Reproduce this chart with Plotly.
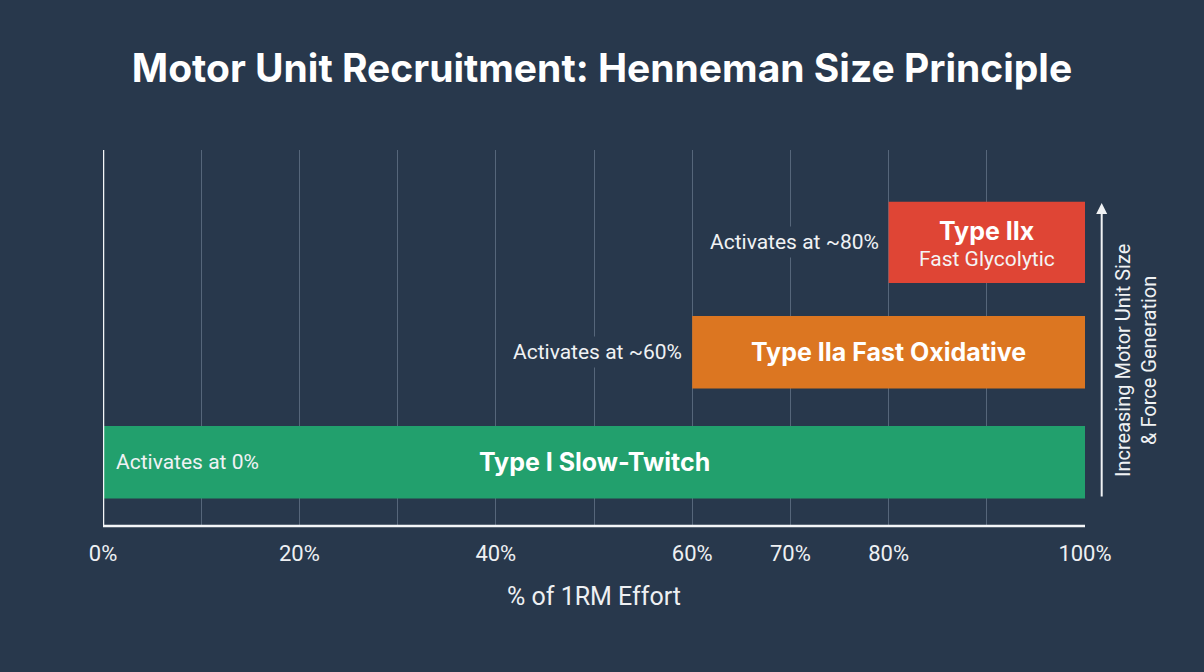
import plotly.graph_objects as go

# ---- data ----
fiber_types = ["Type I", "Type IIa", "Type IIx"]
start_pct = [0, 60, 80]
end_pct = [100, 100, 100]
bar_titles = ["Type I Slow-Twitch", "Type IIa Fast Oxidative", "Type IIx"]
bar_subtitles = ["", "", "Fast Glycolytic"]
activation_labels = ["Activates at 0%", "Activates at ~60%", "Activates at ~80%"]
bar_colors = ["#22a06d", "#dc7621", "#df4535"]
tick_vals = [0, 10, 20, 30, 40, 50, 60, 70, 80, 90, 100]
tick_text = ["0%", "", "20%", "", "40%", "", "60%", "70%", "80%", "", "100%"]

BG = "#28384c"
FONT = "Roboto"

ypos = list(range(len(fiber_types)))
widths = [0.66, 0.66, 0.74]

fig = go.Figure()
fig.add_trace(go.Bar(
    y=ypos,
    x=[e - s for s, e in zip(start_pct, end_pct)],
    base=start_pct,
    orientation="h",
    width=widths,
    marker=dict(color=bar_colors, line=dict(width=0)),
    hoverinfo="skip",
    showlegend=False,
))

annotations = []
for i, (s, e) in enumerate(zip(start_pct, end_pct)):
    mid = (s + e) / 2
    if bar_subtitles[i]:
        annotations.append(dict(x=mid, y=i, xref="x", yref="y", showarrow=False,
                                text=f"<b>{bar_titles[i]}</b>", yshift=11,
                                font=dict(family="Inter", size=25, color="white")))
        annotations.append(dict(x=mid, y=i, xref="x", yref="y", showarrow=False,
                                text=bar_subtitles[i], yshift=-17,
                                font=dict(family=FONT, size=21, color="#f4f4f4")))
    else:
        annotations.append(dict(x=mid, y=i, xref="x", yref="y", showarrow=False,
                                text=f"<b>{bar_titles[i]}</b>",
                                font=dict(family="Inter", size=25, color="white")))
    if s == 0:
        annotations.append(dict(x=s, y=i, xref="x", yref="y", showarrow=False,
                                xanchor="left", xshift=11, text=activation_labels[i],
                                font=dict(family=FONT, size=21, color="#f0f2f4")))
    else:
        annotations.append(dict(x=s, y=i, xref="x", yref="y", showarrow=False,
                                xanchor="right", xshift=-6, text=activation_labels[i],
                                bgcolor=BG, borderpad=3,
                                font=dict(family=FONT, size=21, color="#f0f2f4")))

# upward arrow on right
annotations.append(dict(xref="paper", yref="paper", x=1.017, y=0.859,
                        ax=0, ay=295, axref="pixel", ayref="pixel",
                        showarrow=True, arrowhead=2, arrowsize=1.1, arrowwidth=2,
                        arrowcolor="#f0f2f4", text=""))
annotations.append(dict(xref="paper", yref="paper", x=1.052, y=0.439,
                        xanchor="center", yanchor="middle",
                        showarrow=False, textangle=-90,
                        text="Increasing Motor Unit Size<br>& Force Generation",
                        font=dict(family=FONT, size=20, color="#f0f2f4")))

fig.update_layout(
    width=1204, height=672,
    paper_bgcolor=BG, plot_bgcolor=BG,
    margin=dict(l=103, r=119, t=150, b=146),
    title=dict(text="<b>Motor Unit Recruitment: Henneman Size Principle</b>",
               x=0.5, xanchor="center", y=0.898, yanchor="middle",
               font=dict(family="Inter", size=39, color="white")),
    xaxis=dict(range=[0, 100], tickvals=tick_vals, ticktext=tick_text,
               showgrid=True, gridcolor="#56667a", gridwidth=1,
               zeroline=False, showline=False, ticks="",
               ticklabelstandoff=12,
               tickfont=dict(family=FONT, size=22, color="#eef0f3"),
               title=dict(text="% of 1RM Effort", standoff=22,
                          font=dict(family=FONT, size=25, color="#eef0f3"))),
    yaxis=dict(range=[-0.58, 2.84], showticklabels=False, showgrid=False,
               zeroline=False, showline=False, ticks=""),
    annotations=annotations,
    shapes=[
        dict(type="line", xref="x", yref="paper", x0=0, x1=0, y0=0, y1=1,
             line=dict(color="#f4f6f8", width=2.5)),
        dict(type="line", xref="x", yref="paper", x0=0, x1=100, y0=0, y1=0,
             line=dict(color="#f4f6f8", width=2.5)),
    ],
)

fig.write_html("out.html")
